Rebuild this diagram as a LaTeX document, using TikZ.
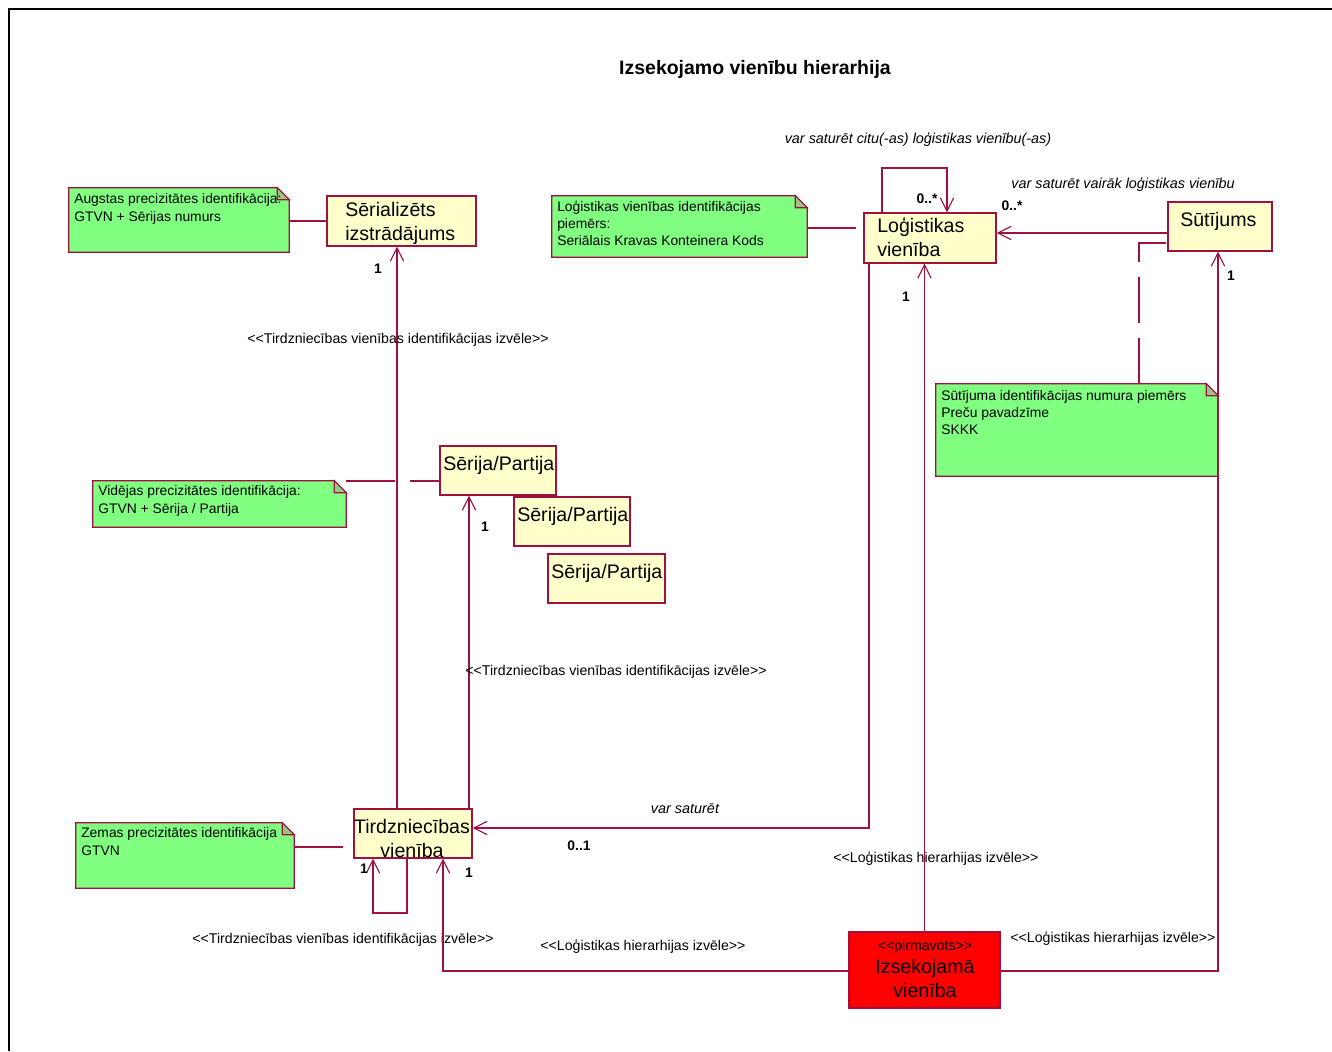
\documentclass[tikz,border=0pt]{standalone}
\usepackage{fontspec}
\setmainfont{Liberation Sans}[Ligatures=TeXOff]
\usetikzlibrary{arrows.meta,fit}
\definecolor{umlline}{RGB}{160,16,64}
\definecolor{notefill}{RGB}{128,255,128}
\definecolor{foldfill}{RGB}{150,200,130}
\definecolor{classfill}{RGB}{255,255,204}
\definecolor{srcfill}{RGB}{255,0,0}

\tikzset{
  x=0.75pt, y=-0.75pt,
  box/.style={draw=umlline, line width=1pt, inner sep=0pt},
  cls/.style={box, fill=classfill},
  src/.style={box, fill=srcfill},
  notearea/.style={inner sep=0pt},
  % multi-line texts are placed by the baseline of their last line
  notetxt/.style={anchor=base west, align=left, inner sep=0pt, font=\fontsize{10.4}{13}\selectfont},
  clstxt/.style={anchor=base west, align=left, inner sep=0pt, font=\fontsize{14.7}{18}\selectfont},
  link/.style={draw=umlline, line width=0.8pt},
  assoc/.style={link, -{Straight Barb[length=10pt,width=10pt]}},
  lbl/.style={inner sep=0pt, font=\fontsize{10.6}{13}\selectfont},
  ilbl/.style={inner sep=0pt, font=\fontsize{10.8}{13}\selectfont\itshape},
  mult/.style={inner sep=0pt, font=\fontsize{10.4}{13}\selectfont\bfseries},
}

% green note with a folded top-right corner, drawn around a fitted area
\newcommand\dognote[1]{%
  \filldraw[draw=umlline, line width=1pt, fill=notefill]
    (#1.north west) -- ([xshift=-9pt]#1.north east) -- ([yshift=-9pt]#1.north east)
    -- (#1.south east) -- (#1.south west) -- cycle;
  \filldraw[draw=umlline, line width=0.8pt, fill=foldfill]
    ([xshift=-9pt]#1.north east) -- ([xshift=-9pt,yshift=-9pt]#1.north east)
    -- ([yshift=-9pt]#1.north east) -- cycle;
}

\begin{document}
\begin{tikzpicture}
\useasboundingbox (0,0) rectangle (1332,1051);
\fill[white] (0,0) rectangle (1332,1051);

% diagram frame
\draw[line width=1.6pt] (1332,9) -- (9,9) -- (9,1051);

% title
\node[font=\fontsize{14.6}{17}\selectfont\bfseries, inner sep=0pt] (title) at (755,69) {Izsekojamo vienību hierarhija};

% ---------- notes ----------
\node[notearea, fit={(69,188) (289,252)}] (n1) {};
\dognote{n1}
\node[notetxt] (n1t) at (74,221.3) {Augstas precizitātes identifikācija:\\GTVN + Sērijas numurs};

\node[notearea, fit={(552,196) (807,257)}] (n2) {};
\dognote{n2}
\node[notetxt] (n2t) at (557,245.7) {Loģistikas vienības identifikācijas\\piemērs:\\Seriālais Kravas Konteinera Kods};

\node[notearea, fit={(936,384) (1218,476)}] (n3) {};
\dognote{n3}
\node[notetxt] (n3t) at (941,434.7) {Sūtījuma identifikācijas numura piemērs\\Preču pavadzīme\\SKKK};

\node[notearea, fit={(93,481) (346,527)}] (n4) {};
\dognote{n4}
\node[notetxt] (n4t) at (98,513.3) {Vidējas precizitātes identifikācija:\\GTVN + Sērija / Partija};

\node[notearea, fit={(76,823) (294,888)}] (n5) {};
\dognote{n5}
\node[notetxt] (n5t) at (81,855.3) {Zemas precizitātes identifikācija\\GTVN};

% ---------- classes ----------
\node[cls, fit={(327,196) (476,246)}] (ser) {};
\node[clstxt] (sert) at (345,240) {Sērializēts\\izstrādājums};

\node[cls, fit={(864,213) (996,263)}] (log) {};
\node[clstxt] (logt) at (877,256) {Loģistikas\\vienība};

\node[cls, fit={(1168,202) (1272,251)}] (sut) {};
\node[clstxt] (sutt) at (1180,226) {Sūtījums};

\node[cls, fit={(440,446) (556,495)}] (sp1) {};
\node[clstxt] (sp1t) at (443,470) {Sērija/Partija};

\node[cls, fit={(514,497) (630,546)}] (sp2) {};
\node[clstxt] (sp2t) at (517,521) {Sērija/Partija};

\node[cls, fit={(548,554) (665,603)}] (sp3) {};
\node[clstxt] (sp3t) at (551,578) {Sērija/Partija};

\node[cls, fit={(354,809) (472,858)}] (tv) {};
\node[clstxt, anchor=base, align=center] (tvt) at (412,857) {Tirdzniecības\\vienība};

\node[src, fit={(849,932) (1000,1008)}] (izs) {};
\node[lbl, anchor=base] (izss) at (925,950) {<<pirmavots>>};
\node[clstxt, anchor=base, align=center] (izst) at (925,997) {Izsekojamā\\vienība};

% ---------- bend and end points ----------
\coordinate (k2) at (856,228);
\coordinate (k3a) at (395,481);
\coordinate (k3b) at (410,481);
\coordinate (k4) at (343,847);
\coordinate (k5) at (1139,243);
\coordinate (k6) at (882,168);
\coordinate (k7) at (947,168);
\coordinate (k8) at (1100,233);
\coordinate (k9) at (869,828);
\coordinate (k10) at (397,500);
\coordinate (k11) at (469,650);
\coordinate (k12) at (407,913);
\coordinate (k13) at (373,913);
\coordinate (k14) at (443,971);
\coordinate (k15) at (1218,971);

% ---------- note anchors ----------
\draw[link] (n1.east |- ser.west) -- (ser.west);
\draw[link] (n2.east |- k2) -- (k2);
\draw[link] (n4.east |- k3a) -- (k3a);
\draw[link] (k3b) -- (sp1.west |- k3b);
\draw[link] (n5.east |- k4) -- (k4);
\draw[link, dash pattern=on 34.5pt off 11.25pt] (n3.north -| k5) -- (k5) -- (sut.west |- k5);

% ---------- associations ----------
% logistic unit contains other logistic units
\draw[assoc] (log.north -| k6) -- (k6) -- (k7) -- (log.north -| k7);
\node[mult] (m1) at (927,199) {0..*};
\node[ilbl] (l1) at (918,139) {var saturēt citu(-as) loģistikas vienību(-as)};

% shipment contains logistic units
\draw[assoc] (sut.west |- k8) -- (log.east |- k8);
\node[mult] (m2) at (1012,206) {0..*};
\node[ilbl] (l2) at (1123,184) {var saturēt vairāk loģistikas vienību};

% logistic unit contains trade units
\draw[assoc] (log.south -| k9) -- (k9) -- (tv.east |- k9);
\node[ilbl] (l3) at (685,809) {var saturēt};
\node[mult] (m3) at (579,846) {0..1};

% trade unit identification choices
\draw[assoc] (tv.north -| k10) -- (ser.south -| k10);
\node[mult] (m4) at (378,269) {1};
\node[lbl] (l4) at (398,340) {<<Tirdzniecības vienības identifikācijas izvēle>>};

\draw[assoc] (tv.north -| k11) -- (sp1.south -| k11);
\node[mult] (m5) at (485,527) {1};
\node[lbl] (l5) at (616,672) {<<Tirdzniecības vienības identifikācijas izvēle>>};

\draw[assoc] (tv.south -| k12) -- (k12) -- (k13) -- (tv.south -| k13);
\node[mult] (m6) at (364,869) {1};
\node[lbl] (l6) at (343,940) {<<Tirdzniecības vienības identifikācijas izvēle>>};

% logistic hierarchy choices of the traceable unit
\draw[assoc] (izs.west |- k14) -- (k14) -- (tv.south -| k14);
\node[mult] (m7) at (469,873) {1};
\node[lbl] (l7) at (643,947) {<<Loģistikas hierarhijas izvēle>>};

\draw[assoc] (izs.north) -- (log.south -| izs.north);
\node[mult] (m8) at (906,297) {1};
\node[lbl] (l8) at (936,859) {<<Loģistikas hierarhijas izvēle>>};

\draw[assoc] (izs.east |- k15) -- (k15) -- (sut.south -| k15);
\node[mult] (m9) at (1231,276) {1};
\node[lbl] (l9) at (1113,939) {<<Loģistikas hierarhijas izvēle>>};
\end{tikzpicture}
\end{document}
